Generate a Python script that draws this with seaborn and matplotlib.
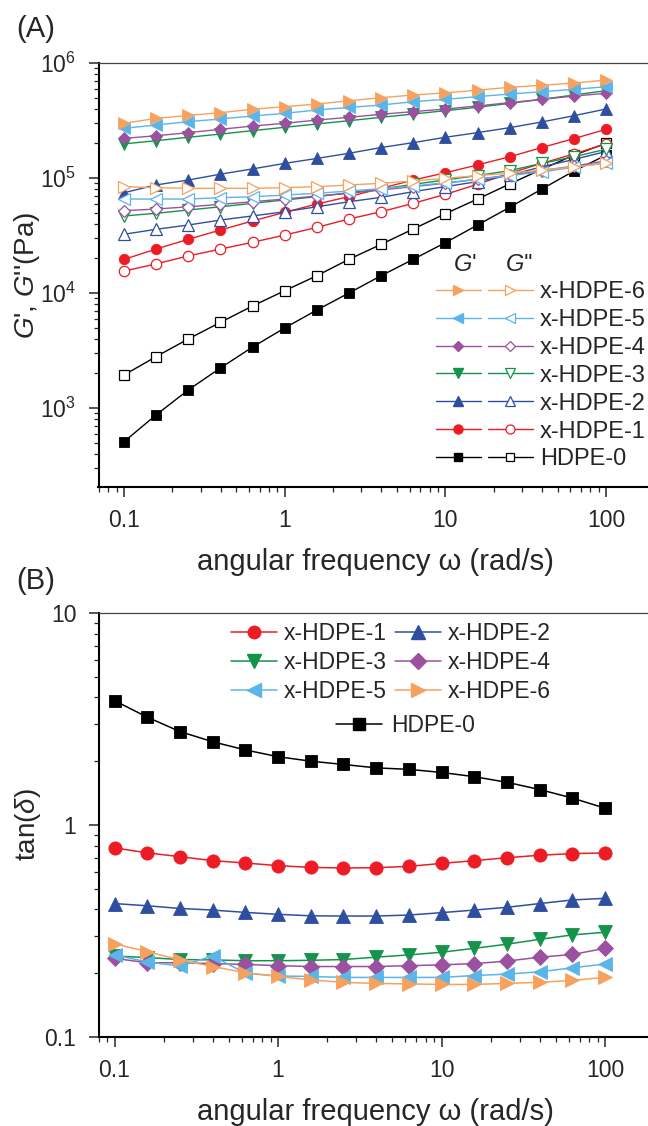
import numpy as np
import seaborn as sns
import matplotlib.pyplot as plt
from matplotlib.lines import Line2D
from matplotlib import ticker

sns.set_style("ticks")
plt.rcParams['font.family'] = ['Liberation Sans', 'DejaVu Sans']
plt.rcParams['mathtext.fontset'] = 'custom'
plt.rcParams['mathtext.rm'] = 'Liberation Sans'
plt.rcParams['mathtext.it'] = 'Liberation Sans:italic'

# -- data --
freq = [0.1, 0.158, 0.251, 0.398, 0.631, 1.0, 1.585, 2.512, 3.981, 6.31,
        10.0, 15.85, 25.12, 39.81, 63.1, 100.0]

samples = ['HDPE-0', 'x-HDPE-1', 'x-HDPE-2', 'x-HDPE-3', 'x-HDPE-4', 'x-HDPE-5', 'x-HDPE-6']

# storage modulus G' (Pa)
gp_0 = [509, 869, 1435, 2228, 3388, 4966, 7110, 10000, 14130, 19640, 27400, 39000, 55600, 80100, 115000, 158000]
gp_1 = [19600, 24100, 29300, 35300, 42300, 50300, 59400, 68800, 81300, 96000, 111000, 130000, 153000, 184000, 220000, 265000]
gp_2 = [74500, 87000, 96000, 108000, 120000, 134000, 148000, 164000, 184000, 203000, 226000, 248000, 274000, 307000, 348000, 398000]
gp_3 = [198000, 211000, 226000, 241000, 258000, 276000, 295000, 315000, 337000, 360000, 385000, 412000, 446000, 483000, 527000, 575000]
gp_4 = [221000, 233000, 248000, 265000, 283000, 299000, 319000, 337000, 358000, 378000, 398000, 423000, 452000, 483000, 516000, 545000]
gp_5 = [270000, 289000, 309000, 326000, 346000, 365000, 390000, 411000, 431000, 461000, 483000, 510000, 537000, 563000, 590000, 622000]
gp_6 = [299000, 330000, 350000, 370000, 396000, 417000, 440000, 470000, 499000, 527000, 550000, 580000, 615000, 640000, 670000, 710000]

# loss modulus G'' (Pa)
gpp_0 = [1936, 2793, 3981, 5559, 7711, 10470, 14130, 19640, 26500, 36000, 48950, 65600, 88700, 119000, 158000, 200000]
gpp_1 = [15500, 17900, 21000, 24100, 27600, 31900, 37200, 44000, 50900, 60200, 72100, 88100, 110000, 134000, 162000, 198000]
gpp_2 = [32400, 35800, 39000, 43100, 46800, 50900, 56200, 62200, 67900, 76100, 84100, 93000, 106000, 125000, 145000, 170000]
gpp_3 = [46800, 49300, 52700, 56200, 60200, 64400, 68800, 74500, 80100, 88100, 96200, 105000, 116000, 134000, 153000, 178000]
gpp_4 = [52000, 53700, 56200, 59000, 62200, 65600, 69700, 73600, 78700, 84100, 90000, 97500, 106000, 116000, 127000, 141000]
gpp_5 = [65600, 65600, 65600, 67400, 68700, 71100, 73600, 77100, 80800, 85200, 91000, 97400, 105000, 113000, 124000, 136000]
gpp_6 = [84100, 82400, 81300, 81300, 81300, 82400, 84100, 86900, 90000, 94200, 99400, 105000, 110000, 117000, 125000, 134000]

# tan(delta)
tan_0 = [3.86, 3.23, 2.76, 2.47, 2.26, 2.10, 2.00, 1.93, 1.86, 1.83, 1.77, 1.69, 1.59, 1.47, 1.34, 1.20]
tan_1 = [0.780, 0.739, 0.709, 0.679, 0.662, 0.643, 0.631, 0.627, 0.629, 0.638, 0.659, 0.679, 0.701, 0.720, 0.733, 0.738]
tan_2 = [0.426, 0.416, 0.404, 0.397, 0.387, 0.379, 0.373, 0.372, 0.372, 0.376, 0.386, 0.397, 0.409, 0.426, 0.443, 0.451]
tan_3 = [0.241, 0.237, 0.232, 0.231, 0.229, 0.229, 0.230, 0.232, 0.238, 0.244, 0.251, 0.262, 0.274, 0.289, 0.303, 0.312]
tan_4 = [0.235, 0.224, 0.224, 0.222, 0.220, 0.217, 0.215, 0.215, 0.215, 0.217, 0.219, 0.222, 0.228, 0.238, 0.245, 0.262]
tan_5 = [0.244, 0.226, 0.216, 0.241, 0.200, 0.194, 0.193, 0.191, 0.191, 0.191, 0.191, 0.195, 0.198, 0.203, 0.212, 0.221]
tan_6 = [0.275, 0.253, 0.231, 0.215, 0.201, 0.193, 0.186, 0.181, 0.179, 0.178, 0.177, 0.177, 0.179, 0.181, 0.185, 0.191]

gp = [gp_0, gp_1, gp_2, gp_3, gp_4, gp_5, gp_6]
gpp = [gpp_0, gpp_1, gpp_2, gpp_3, gpp_4, gpp_5, gpp_6]
tan = [tan_0, tan_1, tan_2, tan_3, tan_4, tan_5, tan_6]

colors = ['#000000', '#ED1C24', '#2E4FA0', '#14934A', '#9B519F', '#5BB5E8', '#F6A25E']
markers = ['s', 'o', '^', 'v', 'D', '<', '>']
msize_a = [6.5, 7.5, 8, 8, 6.5, 8, 8]
msize_b = [8.5, 9.5, 10.5, 10.5, 8.5, 10.5, 10.5]

W, H = 648, 1126
fig = plt.figure(figsize=(W / 100, H / 100), dpi=100)
axA = fig.add_axes([98.5 / W, (H - 487) / H, (652 - 98.5) / W, (487 - 63) / H])
axB = fig.add_axes([98.5 / W, (H - 1037) / H, (652 - 98.5) / W, (1037 - 613) / H])

# -- panel A --
for i in range(7):
    sns.lineplot(x=freq, y=gp[i], ax=axA, color=colors[i], lw=1.0,
                 marker=markers[i], markersize=msize_a[i],
                 markerfacecolor=colors[i], markeredgecolor=colors[i], markeredgewidth=0.6)
    sns.lineplot(x=freq, y=gpp[i], ax=axA, color=colors[i], lw=1.0,
                 marker=markers[i], markersize=msize_a[i],
                 markerfacecolor='white', markeredgecolor=colors[i], markeredgewidth=0.9)

# -- panel B --
for i in range(7):
    sns.lineplot(x=freq, y=tan[i], ax=axB, color=colors[i], lw=1.1,
                 marker=markers[i], markersize=msize_b[i],
                 markerfacecolor=colors[i], markeredgecolor=colors[i], markeredgewidth=0.6)

for ax in (axA, axB):
    ax.set_xscale('log')
    ax.set_yscale('log')
    ax.xaxis.set_major_locator(ticker.FixedLocator([0.1, 1, 10, 100]))
    ax.xaxis.set_major_formatter(ticker.FixedFormatter(['0.1', '1', '10', '100']))
    ax.xaxis.set_minor_locator(ticker.LogLocator(base=10, subs=np.arange(2, 10), numticks=20))
    ax.xaxis.set_minor_formatter(ticker.NullFormatter())
    ax.yaxis.set_minor_locator(ticker.LogLocator(base=10, subs=np.arange(2, 10), numticks=20))
    ax.yaxis.set_minor_formatter(ticker.NullFormatter())
    ax.tick_params(which='major', direction='out', length=7, width=1.1, labelsize=16.5, pad=9)
    ax.tick_params(which='minor', direction='out', length=3.5, width=0.9)
    ax.tick_params(top=False, right=False)
    for s in ('left', 'bottom'):
        ax.spines[s].set_linewidth(1.5)
        ax.spines[s].set_color('black')
    ax.spines['top'].set_linewidth(0.9)
    ax.spines['top'].set_color('#444444')
    ax.spines['right'].set_visible(False)
    ax.set_xlabel('angular frequency \u03c9 (rad/s)', fontsize=21, labelpad=11)

axA.set_xlim(10 ** -1.159, 10 ** 2.286)
axA.set_ylim(10 ** 2.313, 1e6)
axA.yaxis.set_major_locator(ticker.FixedLocator([1e3, 1e4, 1e5, 1e6]))
axA.yaxis.set_major_formatter(ticker.LogFormatterSciNotation())
axA.set_ylabel(r"$G$', $G$''(Pa)", fontsize=20)
axA.yaxis.set_label_coords(-0.102, 0.5)

axB.set_xlim(10 ** -1.098, 10 ** 2.287)
axB.set_ylim(0.1, 10)
axB.yaxis.set_major_locator(ticker.FixedLocator([0.1, 1, 10]))
axB.yaxis.set_major_formatter(ticker.FixedFormatter(['0.1', '1', '10']))
axB.set_ylabel(r'tan($\delta$)', fontsize=20)
axB.yaxis.set_label_coords(-0.1, 0.5)

# -- legend A: filled (G') and open (G'') columns --
order = [6, 5, 4, 3, 2, 1, 0]
filled = [Line2D([], [], color=colors[i], lw=1.0, marker=markers[i], markersize=msize_a[i] - 1,
                 markerfacecolor=colors[i], markeredgecolor=colors[i]) for i in order]
opened = [Line2D([], [], color=colors[i], lw=1.0, marker=markers[i], markersize=msize_a[i] - 1,
                 markerfacecolor='white', markeredgecolor=colors[i], markeredgewidth=0.9) for i in order]
legA = axA.legend(filled + opened, [''] * 7 + [samples[i] for i in order], ncol=2,
                  loc='upper left', bbox_to_anchor=(436 / W, 1 - 281 / H),
                  bbox_transform=fig.transFigure, frameon=False, fontsize=17,
                  handlelength=1.9, handletextpad=0.3, columnspacing=0.0,
                  labelspacing=0.25, borderpad=0, borderaxespad=0)
fig.text(465 / W, 1 - 265 / H, "$G$'", fontsize=17, ha='center', va='center')
fig.text(519 / W, 1 - 265 / H, "$G$''", fontsize=17, ha='center', va='center')

# -- legend B (filled row by row) --
rowwise = [1, 3, 5, 2, 4, 6]
bh = [Line2D([], [], color=colors[i], lw=1.1, marker=markers[i], markersize=msize_b[i] - 0.5,
             markerfacecolor=colors[i], markeredgecolor=colors[i]) for i in rowwise]
legB = axB.legend(bh, [samples[i] for i in rowwise], ncol=2, loc='upper left',
                  bbox_to_anchor=(231 / W, 1 - 622 / H), bbox_transform=fig.transFigure,
                  frameon=False, fontsize=16.5, handlelength=2.0, handletextpad=0.3,
                  columnspacing=0.35, labelspacing=0.27, borderpad=0, borderaxespad=0)
axB.add_artist(legB)
h0 = Line2D([], [], color='black', lw=1.1, marker='s', markersize=8, markerfacecolor='black')
axB.legend([h0], ['HDPE-0'], loc='upper left', bbox_to_anchor=(336 / W, 1 - 714 / H),
           bbox_transform=fig.transFigure, frameon=False, fontsize=16.5,
           handlelength=2.0, handletextpad=0.4, borderpad=0, borderaxespad=0)

fig.text(16 / W, 1 - 15 / H, '(A)', fontsize=21, ha='left', va='top')
fig.text(16 / W, 1 - 567 / H, '(B)', fontsize=21, ha='left', va='top')

fig.savefig('out.png', dpi=100)
